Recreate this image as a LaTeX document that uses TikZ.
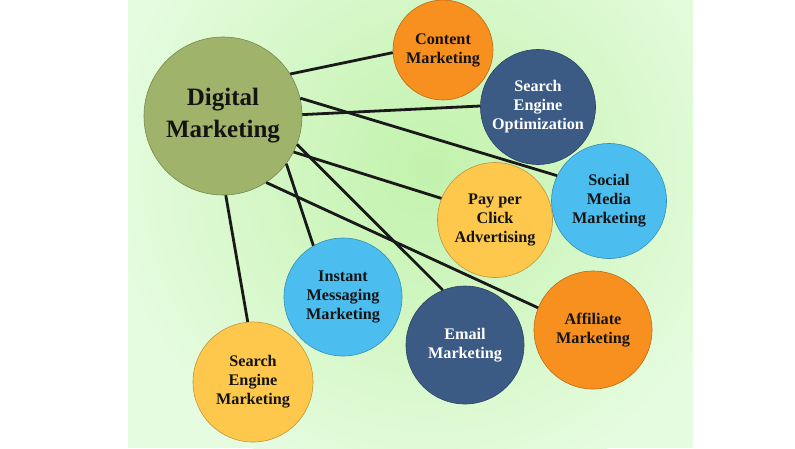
\documentclass[tikz,border=0pt]{standalone}
\usepackage{fontspec}
\setmainfont{Liberation Serif}
\definecolor{bgin}{HTML}{C2F2AC}
\definecolor{bgout}{HTML}{E6FCE0}
\definecolor{olive}{HTML}{9FB46A}
\definecolor{orangec}{HTML}{F7901E}
\definecolor{darkblue}{HTML}{3B5B85}
\definecolor{lightblue}{HTML}{4BBDEE}
\definecolor{yellowc}{HTML}{FDC84C}
\definecolor{txt}{HTML}{141414}
\tikzset{
  bubble/.style={circle, draw=#1!75!black, line width=0.6pt, fill=#1, inner sep=0pt,
     align=center, font=\bfseries\fontsize{16.2}{19}\selectfont, text=txt},
  link/.style={line width=2.8pt, black!90},
}
\begin{document}
\begin{tikzpicture}[x=1pt,y=-1pt]
\useasboundingbox (0,0) rectangle (795,448);
\fill[white] (0,0) rectangle (795,448);
\begin{scope}
\clip (128,0) rectangle (693,448);
\fill[bgout] (128,0) rectangle (693,448);
\shade[inner color=bgin, outer color=bgout] (430,170) circle (330);
\end{scope}
% nodes
\node[bubble=olive, minimum size=158pt, font=\bfseries\fontsize{25}{32}\selectfont] (dm) at (223,116) {Digital\\Marketing};
\node[bubble=orangec, minimum size=100pt] (cm) at (443,50) {Content\\Marketing};
\node[bubble=darkblue, minimum size=115pt, text=white] (seo) at (538,107) {Search\\Engine\\Optimization};
\node[bubble=lightblue, minimum size=115pt] (smm) at (609,201) {Social\\Media\\Marketing};
\node[bubble=yellowc, minimum size=115pt] (ppc) at (495,220) {Pay per\\Click\\Advertising};
\node[bubble=lightblue, minimum size=118pt] (imm) at (343,297) {Instant\\Messaging\\Marketing};
\node[bubble=darkblue, minimum size=118pt, text=white] (em) at (465,345) {Email\\Marketing};
\node[bubble=orangec, minimum size=118pt] (am) at (593,330) {Affiliate\\Marketing};
\node[bubble=yellowc, minimum size=120pt] (sem) at (253,382) {Search\\Engine\\Marketing};
% links
\draw[link] (dm.32.7) -- (cm.183.4);
\draw[link] (dm.1.4) -- (seo.179);
\draw[link] (dm.13) -- (smm.154.3);
\draw[link] (dm.-27) -- (ppc.158);
\draw[link] (dm.-21.4) -- (em.112);
\draw[link] (dm.-57.3) -- (am.158.6);
\draw[link] (dm.-37.3) -- (imm.120);
\draw[link] (dm.-88) -- (sem.95.7);
\end{tikzpicture}
\end{document}
